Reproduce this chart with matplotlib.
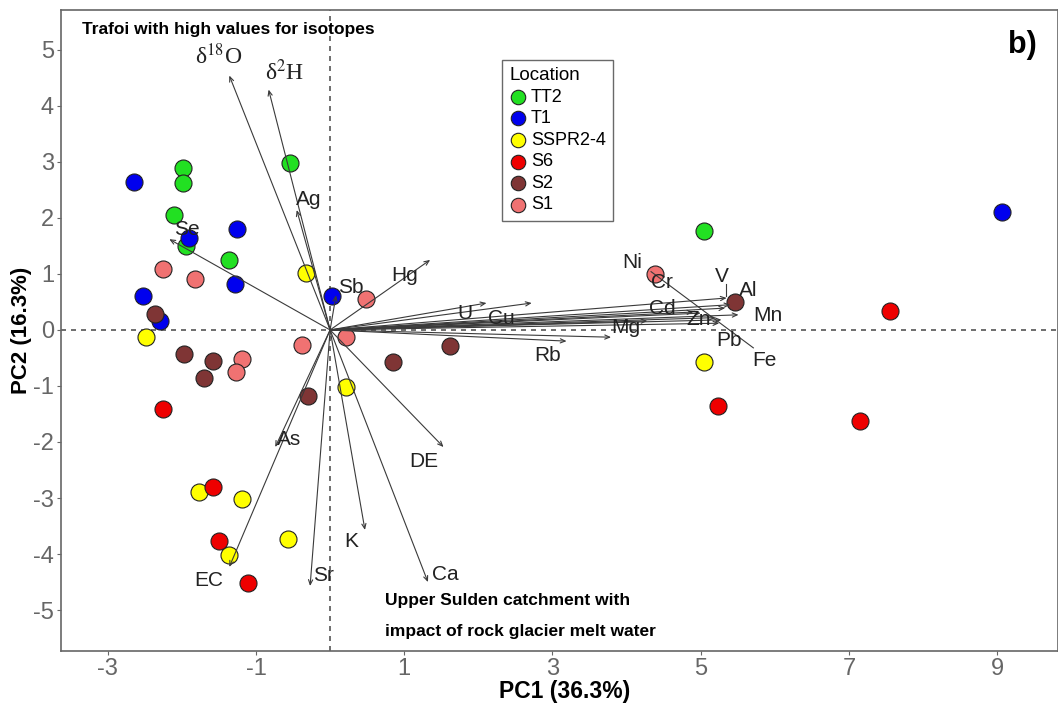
import numpy as np
import matplotlib.pyplot as plt

plt.rcParams['font.family'] = ['Liberation Sans', 'DejaVu Sans']
plt.rcParams['mathtext.fontset'] = 'stix'
plt.rcParams['axes.unicode_minus'] = False

# sample scores (PC1, PC2) per location
locations = ['TT2', 'T1', 'SSPR2-4', 'S6', 'S2', 'S1']
colors = ['#22e022', '#0000ee', '#ffff00', '#ee0000', '#7f3535', '#f07272']

pc1_tt2 = [-1.99, -1.99, -2.10, -1.95, -1.36, -0.54, 5.04]
pc2_tt2 = [2.89, 2.63, 2.05, 1.50, 1.25, 2.98, 1.77]
pc1_t1 = [-2.64, -1.26, -1.90, -1.28, -2.53, -2.29, 0.03, 9.07]
pc2_t1 = [2.64, 1.80, 1.64, 0.82, 0.61, 0.16, 0.61, 2.11]
pc1_sspr = [-2.48, -0.33, 0.21, -1.77, -1.19, -0.57, -1.36, 5.04]
pc2_sspr = [-0.12, 1.02, -1.02, -2.89, -3.02, -3.73, -4.02, -0.57]
pc1_s6 = [-2.26, -1.58, -1.50, -1.11, 7.56, 5.23, 7.15]
pc2_s6 = [-1.41, -2.80, -3.77, -4.52, 0.34, -1.36, -1.63]
pc1_s2 = [-2.36, -1.97, -1.58, -1.70, -0.30, 0.85, 1.62, 5.46]
pc2_s2 = [0.29, -0.43, -0.55, -0.86, -1.18, -0.57, -0.29, 0.50]
pc1_s1 = [-2.25, -1.82, 0.48, 0.22, -0.38, -1.19, -1.27, 4.38]
pc2_s1 = [1.09, 0.91, 0.55, -0.12, -0.27, -0.52, -0.75, 1.00]

scores_x = [pc1_tt2, pc1_t1, pc1_sspr, pc1_s6, pc1_s2, pc1_s1]
scores_y = [pc2_tt2, pc2_t1, pc2_sspr, pc2_s6, pc2_s2, pc2_s1]

# variable loadings (arrow tips)
variables = ['δ$^{18}$O', 'δ$^{2}$H', 'Ag', 'Se', 'Sb', 'Hg', 'U', 'Cu', 'Rb', '',
             'Mg', 'Cd', 'V', 'Al', 'Zn', 'Mn', 'Pb', 'Fe', 'Ni', 'Cr',
             'As', 'EC', 'Sr', 'K', 'Ca', 'DE']
load_x = [-1.36, -0.83, -0.45, -2.17, 0.08, 1.35, 2.11, 2.72, 3.19, 3.79,
          4.28, 5.33, 5.35, 5.40, 5.28, 5.51, 5.25, 5.20, 5.00, 4.90,
          -0.74, -1.36, -0.27, 0.47, 1.32, 1.53]
load_y = [4.54, 4.29, 2.14, 1.62, 0.62, 1.25, 0.48, 0.48, -0.20, -0.13,
          0.16, 0.39, 0.57, 0.45, 0.18, 0.27, 0.12, 0.22, 0.30, 0.32,
          -2.09, -4.23, -4.57, -3.57, -4.50, -2.09]

# repelled label positions
label_pos = {
    'δ$^{18}$O': (-1.50, 4.88), 'δ$^{2}$H': (-0.62, 4.59),
    'Ag': (-0.29, 2.32), 'Se': (-1.93, 1.79), 'Sb': (0.28, 0.75),
    'Hg': (1.01, 0.98), 'U': (1.82, 0.30), 'Cu': (2.31, 0.21),
    'Rb': (2.93, -0.45), 'Mg': (3.99, 0.05), 'Cd': (4.48, 0.39),
    'Zn': (4.97, 0.18), 'Mn': (5.91, 0.25), 'V': (5.28, 0.95),
    'Al': (5.64, 0.71), 'Pb': (5.38, -0.18), 'Fe': (5.86, -0.54),
    'Ni': (4.07, 1.21), 'Cr': (4.48, 0.84), 'As': (-0.56, -1.95),
    'EC': (-1.64, -4.48), 'Sr': (-0.09, -4.39), 'K': (0.28, -3.77),
    'Ca': (1.55, -4.36), 'DE': (1.26, -2.34),
}

fig = plt.figure(figsize=(10.58, 7.04), dpi=100)
ax = fig.add_axes([0.0577, 0.0753, 0.9423, 0.9105])

ax.axhline(0, color='#555555', ls=(0, (3, 3)), lw=1.2, zorder=1)
ax.axvline(0, color='#555555', ls=(0, (3, 3)), lw=1.2, zorder=1)

for xs, ys, c, name in zip(scores_x, scores_y, colors, locations):
    ax.scatter(xs, ys, s=150, c=c, edgecolors='#222222', linewidths=0.8, zorder=3, label=name)

for name, lx, ly in zip(variables, load_x, load_y):
    ax.annotate('', xy=(lx, ly), xytext=(0, 0),
                arrowprops=dict(arrowstyle='->,head_length=0.35,head_width=0.15',
                                color='#3a3a3a', lw=0.8, shrinkA=0, shrinkB=0),
                zorder=4)
    if name in label_pos:
        tx, ty = label_pos[name]
        if 'δ' in name:
            ax.text(tx, ty, name, fontsize=17, family='Liberation Serif',
                    ha='center', va='center', color='#222222', zorder=5)
        else:
            ax.text(tx, ty, name, fontsize=15, ha='center', va='center',
                    color='#222222', zorder=5)

# label leader segments
ax.plot([4.33, 5.71], [1.04, -0.32], color='#3a3a3a', lw=0.8, zorder=4)
ax.plot([5.34, 5.34], [0.82, 0.60], color='#3a3a3a', lw=0.8, zorder=4)

ax.text(-3.35, 5.36, 'Trafoi with high values for isotopes', fontsize=12.5,
        fontweight='bold', ha='left', va='center')
ax.text(0.745, -4.82, 'Upper Sulden catchment with', fontsize=12.5,
        fontweight='bold', ha='left', va='center')
ax.text(0.745, -5.39, 'impact of rock glacier melt water', fontsize=12.5,
        fontweight='bold', ha='left', va='center')
ax.text(9.34, 5.09, 'b)', fontsize=22, fontweight='bold', ha='center', va='center')

ax.set_xlim(-3.63, 9.82)
ax.set_ylim(-5.73, 5.71)
ax.set_xticks([-3, -1, 1, 3, 5, 7, 9])
ax.set_yticks(range(-5, 6))
ax.tick_params(labelsize=17, colors='#666666', labelcolor='#666666', length=3, pad=2)
for s in ax.spines.values():
    s.set_color('#666666')
    s.set_linewidth(1.2)

ax.set_xlabel('PC1 (36.3%)', fontsize=16.5, fontweight='bold')
ax.set_ylabel('PC2 (16.3%)', fontsize=16, fontweight='bold')
ax.xaxis.set_label_coords(0.505, -0.045)
ax.yaxis.set_label_coords(-0.029, 0.5)

leg = ax.legend(title='Location', loc='upper left', bbox_to_anchor=(0.4745, 0.9148),
                bbox_transform=fig.transFigure, fontsize=13, title_fontsize=13.5,
                frameon=True, fancybox=False, handletextpad=0.2, labelspacing=0.25,
                borderpad=0.4, handlelength=1.0, markerscale=0.85, borderaxespad=0)
leg.get_frame().set_edgecolor('#444444')
leg.get_frame().set_linewidth(1.0)
leg._legend_box.align = 'left'

fig.savefig('out.png', dpi=100)
